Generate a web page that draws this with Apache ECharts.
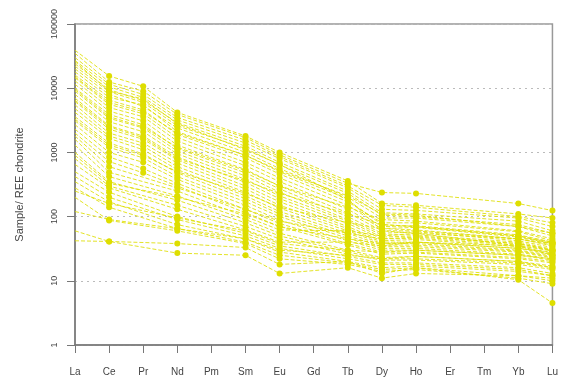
<!DOCTYPE html>
<html><head><meta charset="utf-8">
<script src="https://cdn.jsdelivr.net/npm/echarts@6/dist/echarts.min.js"></script>
<style>html,body{margin:0;padding:0;background:#fff}#c{width:561px;height:385px}</style>
</head><body><div id="c"></div>
<script>
const categories = ['La','Ce','Pr','Nd','Pm','Sm','Eu','Gd','Tb','Dy','Ho','Er','Tm','Yb','Lu'];
const yTicks = [1, 10, 100, 1000, 10000, 100000];
const yTitle = 'Sample/ REE chondrite';
// chondrite-normalised values per sample (Pm, Gd, Er, Tm not analysed)
const samples = [
 [39000,15500,10700,4200,null,1800,1000,null,360,160,150,null,null,110,95],
 [35000,12500,9000,3900,null,1700,920,null,330,237,230,null,null,160,124],
 [30000,11500,8000,3500,null,1550,860,null,300,150,140,null,null,100,80],
 [27000,10500,7200,3200,null,1400,800,null,280,130,125,null,null,95,70],
 [26000,9000,6800,2800,null,1100,650,null,180,75,70,null,null,50,40],
 [24000,9500,6400,2900,null,1250,700,null,250,115,110,null,null,85,60],
 [22000,8800,6000,2600,null,1150,640,null,230,105,100,null,null,75,55],
 [20000,8000,5200,2400,null,1000,560,null,200,95,95,null,null,70,50],
 [18000,7200,5500,2100,null,900,500,null,190,60,55,null,null,35,25],
 [16000,6500,4600,1900,null,820,460,null,170,80,80,null,null,58,42],
 [15000,6000,4300,2000,null,900,520,null,210,110,105,null,null,70,55],
 [14500,5600,4000,1700,null,700,400,null,150,70,72,null,null,52,40],
 [13000,5000,3600,1500,null,620,350,null,130,65,68,null,null,48,38],
 [11500,4400,3100,1300,null,540,300,null,115,60,60,null,null,45,35],
 [10000,3900,2700,1150,null,480,270,null,100,55,58,null,null,42,33],
 [9500,3600,2500,1200,null,520,300,null,140,90,85,null,null,60,45],
 [9000,3400,2400,1050,null,430,240,null,90,52,52,null,null,40,31],
 [8000,3000,2100,950,null,380,210,null,85,48,50,null,null,38,30],
 [7000,2600,1800,850,null,340,190,null,78,45,46,null,null,36,29],
 [6500,2500,1700,800,null,360,230,null,110,75,70,null,null,50,38],
 [6200,2300,1600,760,null,300,170,null,70,42,44,null,null,34,27],
 [5500,2000,1400,680,null,270,150,null,65,40,40,null,null,32,26],
 [4800,1800,1250,600,null,240,135,null,60,38,38,null,null,30,25],
 [4200,1650,1100,540,null,210,120,null,55,36,36,null,null,29,24],
 [3600,1400,950,480,null,190,110,null,50,34,34,null,null,28,23],
 [3300,1300,900,500,null,230,140,null,80,65,62,null,null,45,36],
 [3100,1200,820,420,null,170,100,null,46,32,32,null,null,26,22],
 [2700,1000,700,380,null,150,88,null,42,30,30,null,null,25,21],
 [2300,850,560,330,null,130,78,null,38,28,28,null,null,23,20],
 [2000,720,480,300,null,115,70,null,36,26,27,null,null,22,19],
 [1800,600,null,280,null,130,85,null,55,45,48,null,null,38,30],
 [1600,490,null,250,null,100,62,null,60,50,55,null,null,45,38],
 [1300,420,null,210,null,90,55,null,30,23,24,null,null,20,17],
 [1000,350,null,180,null,80,50,null,28,22,22,null,null,19,16],
 [900,330,null,200,null,110,70,null,45,38,40,null,null,32,28],
 [800,300,null,150,null,70,45,null,26,21,21,null,null,18,15],
 [650,280,null,130,null,62,40,null,40,35,40,null,null,35,30],
 [500,240,null,100,null,55,35,null,24,19,19,null,null,16,13],
 [420,200,null,90,null,50,32,null,22,18,18,null,null,15,12],
 [350,170,null,75,null,45,28,null,20,16,17,null,null,14,12],
 [280,140,null,65,null,40,25,null,19,15,16,null,null,12,10],
 [250,160,null,95,null,60,38,null,30,28,30,null,null,25,22],
 [200,87,null,60,null,38,22,null,18,14,15,null,null,11,9],
 [120,90,null,65,null,45,30,null,25,22,24,null,null,20,16],
 [60,41,null,38,null,33,18,null,20,13,16,null,null,10.4,4.5],
 [42,41,null,27,null,25,13,null,16,11,13,null,null,12,11]
];
const yellow = '#dede00';
const series = samples.map((row, i) => ({
  type: 'line', name: 'S' + (i + 1), data: row, connectNulls: true,
  symbol: 'circle', showSymbol: true,
  symbolSize: (v, p) => (p.dataIndex === 0 ? 0 : 6),
  itemStyle: { color: yellow },
  lineStyle: { color: yellow, width: 1, type: [4, 2], opacity: 0.85 },
  emphasis: { disabled: true }, silent: true
}));
const chart = echarts.init(document.getElementById('c'));
chart.setOption({
  animation: false,
  grid: { left: 75, right: 8, top: 24, bottom: 40, show: true, borderColor: '#999', borderWidth: 1.5, backgroundColor: '#fff' },
  xAxis: {
    type: 'category', data: categories, boundaryGap: false,
    axisLine: { lineStyle: { color: '#777', width: 1.5 } },
    axisTick: { alignWithLabel: true, length: 8, lineStyle: { color: '#777' } },
    axisLabel: { color: '#444', fontSize: 10, fontFamily: 'Liberation Sans', margin: 22, interval: 0 },
    splitLine: { show: false }
  },
  yAxis: {
    type: 'log', logBase: 10, min: yTicks[0], max: yTicks[yTicks.length - 1],
    name: yTitle, nameLocation: 'middle', nameGap: 50,
    nameTextStyle: { color: '#444', fontSize: 11, fontFamily: 'Liberation Sans' },
    axisLine: { show: true, lineStyle: { color: '#777', width: 1.5 } },
    axisTick: { show: true, length: 8, lineStyle: { color: '#777' } },
    axisLabel: { color: '#444', fontSize: 9, fontFamily: 'Liberation Sans', rotate: 90, margin: 16,
      formatter: v => String(Math.round(v)) },
    splitLine: { show: true, lineStyle: { color: '#bbb', type: [2, 4], width: 1 } }
  },
  series: series
});
</script></body></html>
